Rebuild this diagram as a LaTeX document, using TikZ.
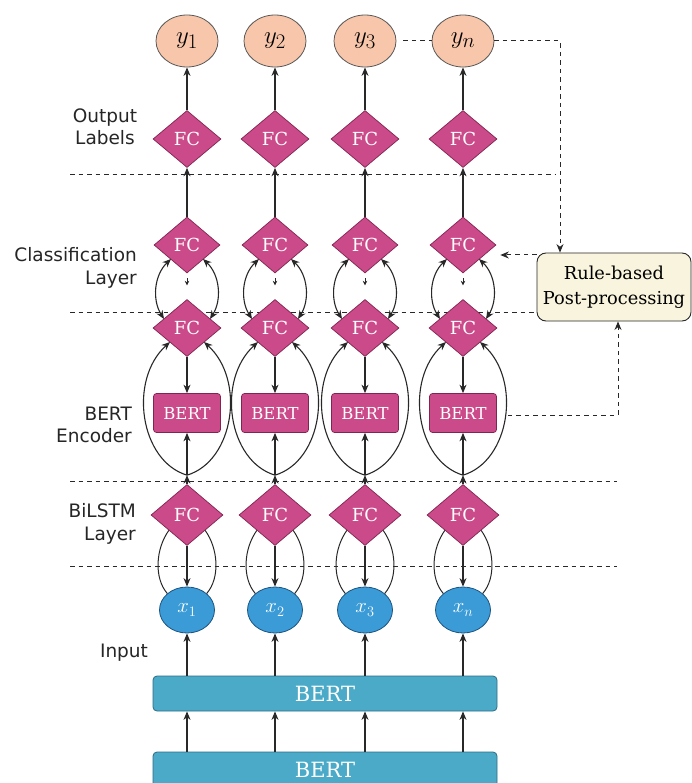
\documentclass[tikz,border=0pt]{standalone}
\usepackage[no-math]{fontspec}
\setmainfont{DejaVu Serif}
\newfontfamily\labelfont{DejaVu Sans}
\usetikzlibrary{shapes.geometric,arrows.meta,calc}
\definecolor{pinkfc}{RGB}{203,74,137}
\definecolor{pinkborder}{RGB}{130,36,82}
\definecolor{peach}{RGB}{248,198,170}
\definecolor{bluex}{RGB}{59,155,214}
\definecolor{bluexb}{RGB}{28,84,130}
\definecolor{tealbar}{RGB}{75,170,200}
\definecolor{tealbarb}{RGB}{44,108,132}
\definecolor{cream}{RGB}{248,244,221}
\definecolor{lineg}{RGB}{40,40,40}
\tikzset{
  tip/.tip={Stealth[length=8.5pt,width=7pt]},
  arr/.style={draw=lineg, line width=1.1pt, -tip},
  biarr/.style={draw=lineg, line width=1.1pt, tip-tip},
  plainline/.style={draw=lineg, line width=1pt},
  sep/.style={draw=lineg, line width=1pt, dash pattern=on 4.5pt off 4pt},
  dasharr/.style={sep, -tip},
  fcbox/.style={diamond, draw=pinkborder, line width=0.7pt, fill=pinkfc, minimum width=68pt, minimum height=57pt, inner sep=0pt, text=white, font=\fontsize{18}{20}\selectfont},
  bertbox/.style={rectangle, rounded corners=3pt, draw=pinkborder, line width=0.7pt, fill=pinkfc, minimum width=67pt, minimum height=39pt, inner sep=0pt, text=white, font=\fontsize{16.5}{18}\selectfont},
  ycirc/.style={ellipse, draw=black!65, line width=0.8pt, fill=peach, minimum width=62pt, minimum height=52pt, inner sep=0pt, font=\fontsize{24.88}{28}\selectfont},
  xcirc/.style={ellipse, draw=bluexb, line width=0.8pt, fill=bluex, minimum width=55pt, minimum height=46pt, inner sep=0pt, text=white, font=\fontsize{20.74}{24}\selectfont},
  barbox/.style={rectangle, rounded corners=4pt, draw=tealbarb, line width=0.8pt, fill=tealbar, minimum width=344pt, inner sep=0pt, text=white, font=\fontsize{21}{24}\selectfont},
  rulebox/.style={rectangle, rounded corners=9pt, draw=lineg, line width=0.9pt, fill=cream, minimum width=154pt, minimum height=68pt, inner sep=0pt, align=center, font=\fontsize{17.8}{25}\selectfont},
  lab/.style={inner sep=0pt, text=black!85, font=\labelfont\fontsize{18.5}{22.5}\selectfont}
}
\begin{document}
\begin{tikzpicture}[x=1pt,y=-1pt]
\useasboundingbox[fill=white] (0,0) rectangle (692,783);

% separators
\draw[sep] (70,175) -- (556,175);
\draw[sep] (70,312) -- (537,312);
\draw[sep] (70,481) -- (617,481);
\draw[sep] (70,566) -- (617,566);

% nodes
\foreach \i/\x/\s in {1/187/1,2/275/2,3/365/3,4/463/n} {
  \node[ycirc] (y\i) at (\x,41) {$y_{\s}$};
  \node[fcbox] (fo\i) at (\x,139) {FC};
  \node[fcbox, minimum width=66pt, minimum height=56pt] (fc\i) at (\x,245) {FC};
  \node[fcbox] (fb\i) at (\x,328) {FC};
  \node[bertbox] (be\i) at (\x,413) {BERT};
  \node[fcbox, minimum width=72pt, minimum height=61pt] (fl\i) at (\x,515) {FC};
  \node[xcirc] (x\i) at (\x,610) {$x_{\s}$};
}
\node[barbox, minimum height=35pt] (bar1) at (325,693.5) {BERT};
\node[barbox, minimum height=40pt, text depth=0pt] (bar2) at (325,772) {\raisebox{4pt}{BERT}};
\node[rulebox] (rule) at (614,287) {Rule-based\\Post-processing};

% labels
\node[lab, align=center] (l1) at (105,127) {Output\\Labels};
\node[lab, align=right, anchor=east] (l2) at (137,268) {Classification\\Layer};
\node[lab, align=right, anchor=east] (l3) at (132,425) {BERT\\Encoder};
\node[lab, align=right, anchor=east] (l4) at (136,524) {BiLSTM\\Layer};
\node[lab] (l5) at (124,653) {Input};

% connectors per column
\foreach \i in {1,2,3,4} {
  \draw[arr] (fo\i.north) -- (y\i.south);
  \draw[arr] (fc\i.north) -- (fo\i.south);
  \draw[biarr] ($(fb\i.center)+(-23,-9)$) .. controls +(-12,-19) and +(-17,16) .. ($(fc\i.center)+(-16,14)$);
  \draw[biarr] ($(fb\i.center)+(23,-9)$) .. controls +(12,-19) and +(17,16) .. ($(fc\i.center)+(16,14)$);
  \draw[draw=lineg, line width=0.8pt, -{Stealth[length=4.5pt,width=4.5pt]}] ($(fc\i.south)+(0,5)$) -- ($(fc\i.south)+(0,12)$);
  \draw[arr] (fb\i.south) -- (be\i.north);
  \coordinate (m\i) at ($(fl\i.north)+(0,-9)$);
  \draw[arr] (fl\i.north) -- (m\i);
  \draw[arr] (m\i) -- (be\i.south);
  \draw[arr] (m\i) .. controls +(-47,-14) and +(-42,38) .. ($(fb\i.center)+(-17,14)$);
  \draw[arr] (m\i) .. controls +(47,-14) and +(42,38) .. ($(fb\i.center)+(17,14)$);
  \draw[plainline] (fl\i.south west) .. controls +(-13,18) and +(-13.6,-15.7) .. (x\i.north west);
  \draw[plainline] (fl\i.south east) .. controls +(13,18) and +(13.6,-15.7) .. (x\i.north east);
  \draw[arr] (fl\i.south) -- (x\i.north);
  \draw[arr] (x\i |- bar1.north) -- (x\i.south);
  \draw[arr] (x\i |- bar2.north) -- (x\i |- bar1.south);
}

% dashed connectors to/from rule box
\draw[sep] ($(y3.east)+(7,0)$) -- (y4.west);
\coordinate (c1) at (560,41);
\draw[dasharr] (y4.east) -- (c1) -- (c1 |- rule.north);
\coordinate (ra) at ($(fc4.east)+(4,10)$);
\draw[dasharr] (rule.west |- ra) -- (ra);
\coordinate (c2) at (618,415);
\draw[dasharr] ($(be4.east)+(11,2)$) -- (c2) -- (c2 |- rule.south);
\end{tikzpicture}
\end{document}
